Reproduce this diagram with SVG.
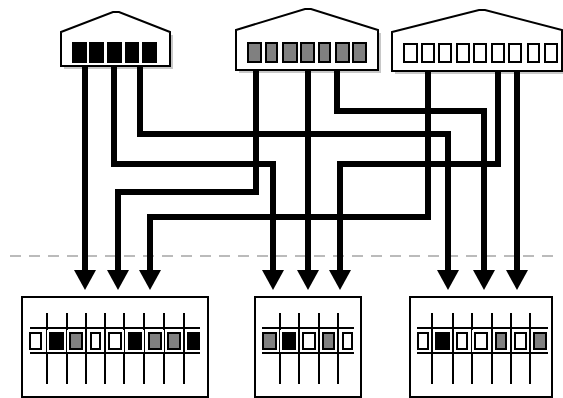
<svg xmlns="http://www.w3.org/2000/svg" width="563" height="398" viewBox="0 0 563 398">
  <style>
    .house{fill:#fff;stroke:#000;stroke-width:2;stroke-linejoin:miter}
    .shadow{fill:#c8c8c8}
    .cell{stroke:#000;stroke-width:2}
    .blk{fill:#000}
    .gry{fill:#808080}
    .wht{fill:#fff}
    .halo{fill:#fff}
    .box{fill:#fff;stroke:#000;stroke-width:2}
    .rail{stroke:#000;stroke-width:2}
    .pin{stroke:#000;stroke-width:2}
    .wire{fill:none;stroke:#000;stroke-width:6;stroke-linejoin:miter}
    .sep{stroke:#bbb;stroke-width:2;stroke-dasharray:11 8}
  </style>
  <defs>
    <!-- solid triangular head, drawn along +x so orient="auto" turns it with the wire -->
    <marker id="arrow" markerUnits="userSpaceOnUse" markerWidth="20" markerHeight="22" refX="0" refY="0" orient="auto" viewBox="0 -11 20 22">
      <path d="M0,-11 L20,0 L0,11 Z" fill="#000"/>
    </marker>
  </defs>

  <!-- divider -->
  <line class="sep" x1="10" y1="256" x2="558" y2="256"/>

  <!-- sources -->
  <g id="source-a">
    <rect class="shadow" x="64" y="66" width="109" height="3"/>
    <rect class="shadow" x="170" y="35" width="3" height="34"/>
    <polygon class="house" points="61,32 113,12 119,12 170,32 170,66 61,66"/>
    <rect class="cell blk" x="73" y="43" width="13" height="19"/>
    <rect class="cell blk" x="90" y="43" width="13" height="19"/>
    <rect class="cell blk" x="108" y="43" width="13" height="19"/>
    <rect class="cell blk" x="126" y="43" width="12" height="19"/>
    <rect class="cell blk" x="143" y="43" width="13" height="19"/>
  </g>

  <g id="source-b">
    <rect class="shadow" x="239" y="70" width="142" height="3"/>
    <rect class="shadow" x="378" y="33" width="3" height="40"/>
    <polygon class="house" points="236,30 305,9 311,9 378,30 378,70 236,70"/>
    <rect class="cell gry" x="248" y="43" width="13" height="19"/>
    <rect class="cell gry" x="266" y="43" width="11" height="19"/>
    <rect class="cell gry" x="283" y="43" width="14" height="19"/>
    <rect class="cell gry" x="301" y="43" width="13" height="19"/>
    <rect class="cell gry" x="319" y="43" width="11" height="19"/>
    <rect class="cell gry" x="336" y="43" width="13" height="19"/>
    <rect class="cell gry" x="353" y="43" width="13" height="19"/>
  </g>

  <g id="source-c">
    <rect class="shadow" x="395" y="71" width="168" height="3"/>
    <polygon class="house" points="392,32 479,10 485,10 562,30 562,71 392,71"/>
    <rect class="cell wht" x="404" y="44" width="13" height="18"/>
    <rect class="cell wht" x="422" y="44" width="12" height="18"/>
    <rect class="cell wht" x="439" y="44" width="12" height="18"/>
    <rect class="cell wht" x="457" y="44" width="12" height="18"/>
    <rect class="cell wht" x="474" y="44" width="12" height="18"/>
    <rect class="cell wht" x="492" y="44" width="12" height="18"/>
    <rect class="cell wht" x="509" y="44" width="12" height="18"/>
    <rect class="cell wht" x="528" y="44" width="11" height="18"/>
    <rect class="cell wht" x="545" y="44" width="12" height="18"/>
  </g>

  <!-- wiring -->
  <g id="connectors">
    <path class="wire" d="M85,66 V270" marker-end="url(#arrow)"/>
    <path class="wire" d="M114,66 V164 H273 V270" marker-end="url(#arrow)"/>
    <path class="wire" d="M140,66 V134 H448 V270" marker-end="url(#arrow)"/>
    <path class="wire" d="M256,70 V192 H118 V270" marker-end="url(#arrow)"/>
    <path class="wire" d="M308,70 V270" marker-end="url(#arrow)"/>
    <path class="wire" d="M337,70 V111 H484 V270" marker-end="url(#arrow)"/>
    <path class="wire" d="M428,71 V217 H150 V270" marker-end="url(#arrow)"/>
    <path class="wire" d="M498,71 V164 H340 V270" marker-end="url(#arrow)"/>
    <path class="wire" d="M517,71 V270" marker-end="url(#arrow)"/>
  </g>

  <!-- targets -->
  <g id="target-a">
    <rect class="box" x="22" y="297" width="186" height="100"/>
    <line class="rail" x1="30" y1="328" x2="200" y2="328"/>
    <line class="rail" x1="30" y1="353" x2="200" y2="353"/>
    <g class="pin">
      <line x1="47" y1="313" x2="47" y2="384"/>
      <line x1="67" y1="313" x2="67" y2="384"/>
      <line x1="86" y1="313" x2="86" y2="384"/>
      <line x1="105" y1="313" x2="105" y2="384"/>
      <line x1="124" y1="313" x2="124" y2="384"/>
      <line x1="144" y1="313" x2="144" y2="384"/>
      <line x1="164" y1="313" x2="164" y2="384"/>
      <line x1="184" y1="313" x2="184" y2="384"/>
    </g>
    <rect class="halo" x="27" y="330" width="17" height="22"/>
    <rect class="cell wht" x="30" y="333" width="11" height="16"/>
    <rect class="halo" x="47" y="330" width="19" height="22"/>
    <rect class="cell blk" x="50" y="333" width="13" height="16"/>
    <rect class="halo" x="67" y="330" width="18" height="22"/>
    <rect class="cell gry" x="70" y="333" width="12" height="16"/>
    <rect class="halo" x="88" y="330" width="15" height="22"/>
    <rect class="cell wht" x="91" y="333" width="9" height="16"/>
    <rect class="halo" x="106" y="330" width="18" height="22"/>
    <rect class="cell wht" x="109" y="333" width="12" height="16"/>
    <rect class="halo" x="126" y="330" width="18" height="22"/>
    <rect class="cell blk" x="129" y="333" width="12" height="16"/>
    <rect class="halo" x="146" y="330" width="18" height="22"/>
    <rect class="cell gry" x="149" y="333" width="12" height="16"/>
    <rect class="halo" x="165" y="330" width="18" height="22"/>
    <rect class="cell gry" x="168" y="333" width="12" height="16"/>
    <rect class="halo" x="185" y="330" width="17" height="22"/>
    <rect class="cell blk" x="188" y="333" width="11" height="16"/>
  </g>

  <g id="target-b">
    <rect class="box" x="255" y="297" width="106" height="100"/>
    <line class="rail" x1="262" y1="328" x2="354" y2="328"/>
    <line class="rail" x1="262" y1="353" x2="354" y2="353"/>
    <g class="pin">
      <line x1="280" y1="313" x2="280" y2="384"/>
      <line x1="299" y1="313" x2="299" y2="384"/>
      <line x1="319" y1="313" x2="319" y2="384"/>
      <line x1="338" y1="313" x2="338" y2="384"/>
    </g>
    <rect class="halo" x="260" y="330" width="19" height="22"/>
    <rect class="cell gry" x="263" y="333" width="13" height="16"/>
    <rect class="halo" x="280" y="330" width="18" height="22"/>
    <rect class="cell blk" x="283" y="333" width="12" height="16"/>
    <rect class="halo" x="300" y="330" width="18" height="22"/>
    <rect class="cell wht" x="303" y="333" width="12" height="16"/>
    <rect class="halo" x="320" y="330" width="17" height="22"/>
    <rect class="cell gry" x="323" y="333" width="11" height="16"/>
    <rect class="halo" x="340" y="330" width="15" height="22"/>
    <rect class="cell wht" x="343" y="333" width="9" height="16"/>
  </g>

  <g id="target-c">
    <rect class="box" x="410" y="297" width="142" height="100"/>
    <line class="rail" x1="417" y1="328" x2="548" y2="328"/>
    <line class="rail" x1="417" y1="353" x2="548" y2="353"/>
    <g class="pin">
      <line x1="432" y1="313" x2="432" y2="384"/>
      <line x1="453" y1="313" x2="453" y2="384"/>
      <line x1="472" y1="313" x2="472" y2="384"/>
      <line x1="492" y1="313" x2="492" y2="384"/>
      <line x1="511" y1="313" x2="511" y2="384"/>
      <line x1="530" y1="313" x2="530" y2="384"/>
    </g>
    <rect class="halo" x="415" y="330" width="16" height="22"/>
    <rect class="cell wht" x="418" y="333" width="10" height="16"/>
    <rect class="halo" x="433" y="330" width="19" height="22"/>
    <rect class="cell blk" x="436" y="333" width="13" height="16"/>
    <rect class="halo" x="454" y="330" width="16" height="22"/>
    <rect class="cell wht" x="457" y="333" width="10" height="16"/>
    <rect class="halo" x="472" y="330" width="18" height="22"/>
    <rect class="cell wht" x="475" y="333" width="12" height="16"/>
    <rect class="halo" x="493" y="330" width="16" height="22"/>
    <rect class="cell gry" x="496" y="333" width="10" height="16"/>
    <rect class="halo" x="512" y="330" width="17" height="22"/>
    <rect class="cell wht" x="515" y="333" width="11" height="16"/>
    <rect class="halo" x="531" y="330" width="18" height="22"/>
    <rect class="cell gry" x="534" y="333" width="12" height="16"/>
  </g>
</svg>
